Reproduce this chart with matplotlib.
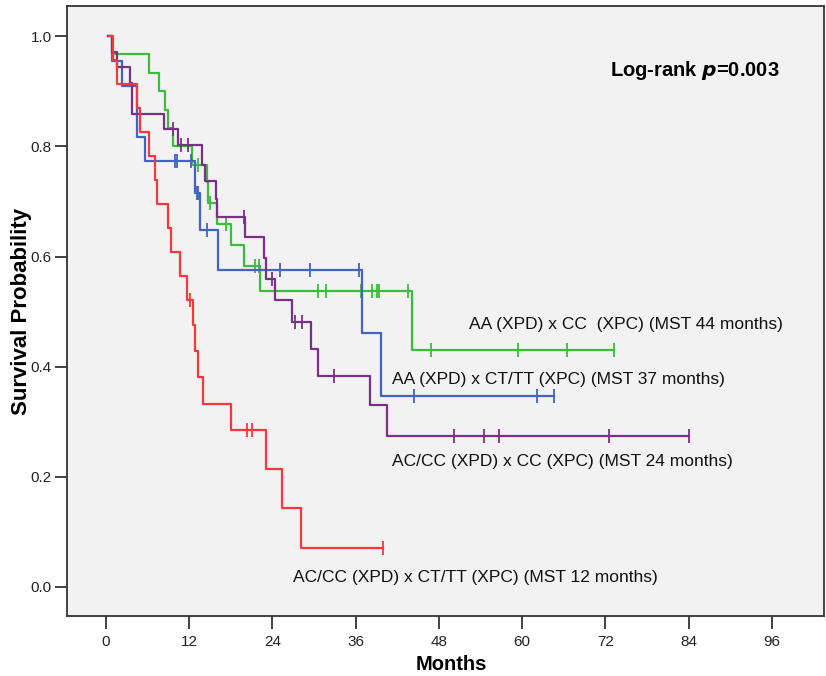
import matplotlib
matplotlib.use("Agg")
import matplotlib.pyplot as plt

plt.rcParams['font.family'] = ['Liberation Sans', 'DejaVu Sans']

# ---- data ----
# AA (XPD) x CC (XPC)
green_t = [0.3, 0.8, 6.2, 7.7, 8.5, 9.0, 9.6, 12.4, 14.5, 14.7, 16.0, 18.0, 19.9, 22.2, 44.1]
green_s = [1.0, 0.967, 0.933, 0.900, 0.867, 0.833, 0.800, 0.767, 0.735, 0.698, 0.660, 0.621, 0.583, 0.537, 0.431]
green_end = 73.3
green_ct = [13.3, 15.0, 17.3, 21.5, 22.1, 30.5, 31.7, 36.8, 38.4, 39.0, 39.4, 43.6, 46.8, 59.4, 66.5, 73.3]
green_cs = [0.767, 0.698, 0.660, 0.583, 0.583, 0.537, 0.537, 0.537, 0.537, 0.537, 0.537, 0.537, 0.431, 0.431, 0.431, 0.431]

# AA (XPD) x CT/TT (XPC)
blue_t = [0.3, 0.9, 2.3, 4.4, 5.6, 12.8, 13.5, 16.1, 36.9, 39.7]
blue_s = [1.0, 0.955, 0.909, 0.818, 0.773, 0.716, 0.649, 0.576, 0.462, 0.346]
blue_end = 64.6
blue_ct = [10.0, 10.2, 12.3, 13.1, 13.3, 14.6, 25.1, 29.4, 36.5, 44.4, 62.2, 64.6]
blue_cs = [0.773, 0.773, 0.773, 0.716, 0.716, 0.649, 0.576, 0.576, 0.576, 0.346, 0.346, 0.346]

# AC/CC (XPD) x CC (XPC)
purple_t = [0.3, 0.8, 1.6, 3.5, 3.8, 8.4, 10.4, 13.8, 14.3, 15.9, 16.0, 20.0, 22.8, 23.0,
            24.3, 26.8, 29.6, 30.6, 38.1, 40.5]
purple_s = [1.0, 0.972, 0.944, 0.916, 0.858, 0.831, 0.802, 0.767, 0.737, 0.705, 0.672, 0.636,
            0.598, 0.560, 0.521, 0.481, 0.433, 0.384, 0.330, 0.275]
purple_end = 84.1
purple_ct = [9.7, 10.8, 11.8, 19.9, 24.0, 27.2, 28.2, 32.9, 50.1, 54.5, 56.7, 72.5, 84.1]
purple_cs = [0.831, 0.802, 0.802, 0.672, 0.560, 0.481, 0.481, 0.384, 0.275, 0.275, 0.275, 0.275, 0.275]

# AC/CC (XPD) x CT/TT (XPC)
red_t = [0.4, 1.0, 1.6, 4.4, 4.9, 6.2, 7.0, 7.3, 9.0, 9.3, 10.7, 11.7, 12.6, 12.8, 13.3, 14.0,
         18.0, 23.1, 25.4, 28.1]
red_s = [1.0, 0.957, 0.913, 0.870, 0.826, 0.783, 0.739, 0.696, 0.652, 0.609, 0.565, 0.522,
         0.475, 0.428, 0.381, 0.333, 0.285, 0.214, 0.143, 0.071]
red_end = 40.0
red_ct = [12.1, 20.3, 21.0, 40.0]
red_cs = [0.522, 0.285, 0.285, 0.071]

labels = ["AA (XPD) x CC  (XPC) (MST 44 months)",
          "AA (XPD) x CT/TT (XPC) (MST 37 months)",
          "AC/CC (XPD) x CC (XPC) (MST 24 months)",
          "AC/CC (XPD) x CT/TT (XPC) (MST 12 months)"]
x_ticks = [0, 12, 24, 36, 48, 60, 72, 84, 96]
y_ticks = [0.0, 0.2, 0.4, 0.6, 0.8, 1.0]

colors = {'green': '#3dbb3d', 'blue': '#4463bf', 'purple': '#7b2f86', 'red': '#f5383b'}

fig = plt.figure(figsize=(8.26, 6.76), dpi=100)
ax = fig.add_axes([67/826, 60/676, (824-67)/826, (616-6)/676])
ax.set_facecolor('#f2f2f2')

groups = [
    (green_t, green_s, green_end, green_ct, green_cs, colors['green']),
    (blue_t, blue_s, blue_end, blue_ct, blue_cs, colors['blue']),
    (purple_t, purple_s, purple_end, purple_ct, purple_cs, colors['purple']),
    (red_t, red_s, red_end, red_ct, red_cs, colors['red']),
]
for t, s, end, ct, cs, c in groups:
    ax.step(list(t) + [end], list(s) + [s[-1]], where='post', color=c, lw=1.6)
    ax.plot(ct, cs, ls='none', marker='|', ms=10, mew=1.3, color=c)

ax.set_xlim(-5.62, 103.5)
ax.set_ylim(-0.0527, 1.055)
ax.set_xticks(x_ticks)
ax.set_xticklabels([str(v) for v in x_ticks])
ax.set_yticks(y_ticks)
ax.set_yticklabels([f"{v:.1f}" for v in y_ticks])
ax.tick_params(direction='out', length=9, width=1.3, color='#333333',
               labelsize=11, labelcolor='#222222')
ax.tick_params(axis='y', pad=2)
ax.tick_params(axis='x', pad=5)
for sp in ax.spines.values():
    sp.set_linewidth(1.3)
    sp.set_color('#333333')

ax.set_xlabel('Months', fontsize=14.5, fontweight='bold', labelpad=4)
ax.xaxis.label.set_x((451.5 - 67) / 757)
ax.set_ylabel('Survival Probability', fontsize=16, fontweight='bold')
ax.yaxis.set_label_coords((32 - 67) / 757, 0.5)

ax.text(97.15, 0.927, r'Log-rank $\boldsymbol{p}$=0.003', fontsize=14.5, fontweight='bold',
        ha='right', va='baseline')
ax.text(52.37, 0.4677, labels[0], fontsize=12.5, ha='left', va='baseline', color='#111111')
ax.text(41.27, 0.3684, labels[1], fontsize=12.5, ha='left', va='baseline', color='#111111')
ax.text(41.27, 0.2196, labels[2], fontsize=12.5, ha='left', va='baseline', color='#111111')
ax.text(26.95, 0.0091, labels[3], fontsize=12.5, ha='left', va='baseline', color='#111111')

fig.savefig('out.png', dpi=100, facecolor='white')
